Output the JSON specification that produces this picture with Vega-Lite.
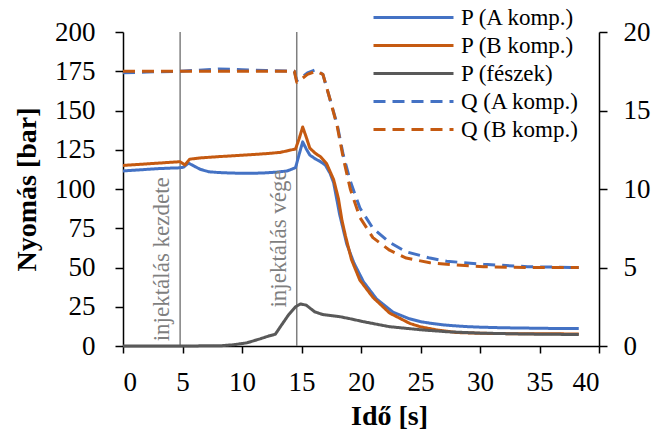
{
  "$schema": "https://vega.github.io/schema/vega-lite/v6.json",
  "width": 476,
  "height": 314,
  "autosize": {"type": "none"},
  "padding": {"left": 123, "top": 32, "right": 67, "bottom": 86},
  "background": "white",
  "config": {
    "view": {"stroke": null},
    "font": "Liberation Serif",
    "axis": {
      "grid": false,
      "labelOverlap": false,
      "domainColor": "#000000",
      "tickColor": "#000000",
      "domainWidth": 1.5,
      "tickWidth": 1.5,
      "labelFont": "Liberation Serif",
      "labelFontSize": 27,
      "labelColor": "#000000",
      "titleFont": "Liberation Serif",
      "titleFontSize": 28,
      "titleFontWeight": "bold",
      "titleColor": "#000000"
    },
    "legend": {
      "orient": "none",
      "legendX": 249,
      "legendY": -26,
      "padding": 0,
      "labelFont": "Liberation Serif",
      "labelFontSize": 23,
      "labelColor": "#000000",
      "symbolType": "M-1,0H7",
      "symbolSize": 400,
      "symbolStrokeWidth": 3,
      "labelOffset": 66,
      "rowPadding": 4
    }
  },
  "datasets": {
    "series": [
      {"t": 0, "v": 111.5, "s": "P (A komp.)"},
      {"t": 1, "v": 112, "s": "P (A komp.)"},
      {"t": 2, "v": 112.5, "s": "P (A komp.)"},
      {"t": 3, "v": 113, "s": "P (A komp.)"},
      {"t": 4, "v": 113.3, "s": "P (A komp.)"},
      {"t": 4.8, "v": 113.5, "s": "P (A komp.)"},
      {"t": 5.1, "v": 114, "s": "P (A komp.)"},
      {"t": 5.5, "v": 116.5, "s": "P (A komp.)"},
      {"t": 6, "v": 114.5, "s": "P (A komp.)"},
      {"t": 6.5, "v": 112.5, "s": "P (A komp.)"},
      {"t": 7.2, "v": 111, "s": "P (A komp.)"},
      {"t": 8, "v": 110.5, "s": "P (A komp.)"},
      {"t": 9, "v": 110.2, "s": "P (A komp.)"},
      {"t": 10, "v": 110, "s": "P (A komp.)"},
      {"t": 11, "v": 110, "s": "P (A komp.)"},
      {"t": 12, "v": 110.3, "s": "P (A komp.)"},
      {"t": 13, "v": 110.8, "s": "P (A komp.)"},
      {"t": 13.8, "v": 111.5, "s": "P (A komp.)"},
      {"t": 14.5, "v": 113.6, "s": "P (A komp.)"},
      {"t": 14.8, "v": 122, "s": "P (A komp.)"},
      {"t": 15.1, "v": 130, "s": "P (A komp.)"},
      {"t": 15.4, "v": 125.5, "s": "P (A komp.)"},
      {"t": 15.7, "v": 121.6, "s": "P (A komp.)"},
      {"t": 16.2, "v": 119, "s": "P (A komp.)"},
      {"t": 16.6, "v": 117.4, "s": "P (A komp.)"},
      {"t": 17, "v": 115.3, "s": "P (A komp.)"},
      {"t": 17.4, "v": 110, "s": "P (A komp.)"},
      {"t": 17.7, "v": 104, "s": "P (A komp.)"},
      {"t": 18.2, "v": 84, "s": "P (A komp.)"},
      {"t": 18.8, "v": 65, "s": "P (A komp.)"},
      {"t": 19.4, "v": 53, "s": "P (A komp.)"},
      {"t": 20.2, "v": 41, "s": "P (A komp.)"},
      {"t": 21.3, "v": 30, "s": "P (A komp.)"},
      {"t": 22.7, "v": 21.5, "s": "P (A komp.)"},
      {"t": 24, "v": 17.5, "s": "P (A komp.)"},
      {"t": 25, "v": 15.5, "s": "P (A komp.)"},
      {"t": 26, "v": 14.3, "s": "P (A komp.)"},
      {"t": 27, "v": 13.4, "s": "P (A komp.)"},
      {"t": 28, "v": 12.8, "s": "P (A komp.)"},
      {"t": 29, "v": 12.3, "s": "P (A komp.)"},
      {"t": 30, "v": 12, "s": "P (A komp.)"},
      {"t": 32, "v": 11.6, "s": "P (A komp.)"},
      {"t": 34, "v": 11.4, "s": "P (A komp.)"},
      {"t": 36, "v": 11.2, "s": "P (A komp.)"},
      {"t": 38.3, "v": 11.1, "s": "P (A komp.)"},

      {"t": 0, "v": 115, "s": "P (B komp.)"},
      {"t": 1, "v": 115.5, "s": "P (B komp.)"},
      {"t": 2, "v": 116, "s": "P (B komp.)"},
      {"t": 3, "v": 116.5, "s": "P (B komp.)"},
      {"t": 4, "v": 117, "s": "P (B komp.)"},
      {"t": 4.8, "v": 117.4, "s": "P (B komp.)"},
      {"t": 5.2, "v": 115.3, "s": "P (B komp.)"},
      {"t": 5.6, "v": 119, "s": "P (B komp.)"},
      {"t": 6.5, "v": 119.8, "s": "P (B komp.)"},
      {"t": 8, "v": 120.6, "s": "P (B komp.)"},
      {"t": 10, "v": 121.5, "s": "P (B komp.)"},
      {"t": 12, "v": 122.5, "s": "P (B komp.)"},
      {"t": 13.2, "v": 123.3, "s": "P (B komp.)"},
      {"t": 14.5, "v": 125.5, "s": "P (B komp.)"},
      {"t": 14.8, "v": 132, "s": "P (B komp.)"},
      {"t": 15.1, "v": 139.5, "s": "P (B komp.)"},
      {"t": 15.4, "v": 133, "s": "P (B komp.)"},
      {"t": 15.7, "v": 126, "s": "P (B komp.)"},
      {"t": 16.2, "v": 122.5, "s": "P (B komp.)"},
      {"t": 16.6, "v": 120.6, "s": "P (B komp.)"},
      {"t": 17.1, "v": 116.3, "s": "P (B komp.)"},
      {"t": 17.7, "v": 106, "s": "P (B komp.)"},
      {"t": 18.1, "v": 94, "s": "P (B komp.)"},
      {"t": 18.4, "v": 80, "s": "P (B komp.)"},
      {"t": 18.7, "v": 70, "s": "P (B komp.)"},
      {"t": 19.2, "v": 55, "s": "P (B komp.)"},
      {"t": 19.9, "v": 42, "s": "P (B komp.)"},
      {"t": 21, "v": 31, "s": "P (B komp.)"},
      {"t": 22.4, "v": 21, "s": "P (B komp.)"},
      {"t": 24.1, "v": 14.4, "s": "P (B komp.)"},
      {"t": 25, "v": 12.2, "s": "P (B komp.)"},
      {"t": 26.4, "v": 10.2, "s": "P (B komp.)"},
      {"t": 28, "v": 8.6, "s": "P (B komp.)"},
      {"t": 30, "v": 8.1, "s": "P (B komp.)"},
      {"t": 33, "v": 7.8, "s": "P (B komp.)"},
      {"t": 38.3, "v": 7.7, "s": "P (B komp.)"},

      {"t": 0, "v": 0, "s": "P (fészek)"},
      {"t": 5, "v": 0, "s": "P (fészek)"},
      {"t": 8.3, "v": 0.2, "s": "P (fészek)"},
      {"t": 9.3, "v": 0.8, "s": "P (fészek)"},
      {"t": 10.4, "v": 2, "s": "P (fészek)"},
      {"t": 11.5, "v": 4.5, "s": "P (fészek)"},
      {"t": 12.3, "v": 6.5, "s": "P (fészek)"},
      {"t": 12.8, "v": 7.5, "s": "P (fészek)"},
      {"t": 13.2, "v": 12, "s": "P (fészek)"},
      {"t": 13.9, "v": 19.7, "s": "P (fészek)"},
      {"t": 14.5, "v": 25, "s": "P (fészek)"},
      {"t": 14.9, "v": 26.8, "s": "P (fészek)"},
      {"t": 15.4, "v": 26, "s": "P (fészek)"},
      {"t": 16.1, "v": 21.8, "s": "P (fészek)"},
      {"t": 16.8, "v": 20, "s": "P (fészek)"},
      {"t": 18.2, "v": 18.7, "s": "P (fészek)"},
      {"t": 19, "v": 17.5, "s": "P (fészek)"},
      {"t": 20.2, "v": 15.5, "s": "P (fészek)"},
      {"t": 22.4, "v": 12.3, "s": "P (fészek)"},
      {"t": 25.2, "v": 10.2, "s": "P (fészek)"},
      {"t": 27.2, "v": 9.1, "s": "P (fészek)"},
      {"t": 30, "v": 8.2, "s": "P (fészek)"},
      {"t": 34, "v": 7.6, "s": "P (fészek)"},
      {"t": 38.3, "v": 7.3, "s": "P (fészek)"},

      {"t": 0, "v": 17.4, "s": "Q (A komp.)"},
      {"t": 2, "v": 17.45, "s": "Q (A komp.)"},
      {"t": 4.8, "v": 17.5, "s": "Q (A komp.)"},
      {"t": 6, "v": 17.55, "s": "Q (A komp.)"},
      {"t": 8, "v": 17.65, "s": "Q (A komp.)"},
      {"t": 10, "v": 17.6, "s": "Q (A komp.)"},
      {"t": 12, "v": 17.55, "s": "Q (A komp.)"},
      {"t": 14.4, "v": 17.5, "s": "Q (A komp.)"},
      {"t": 14.6, "v": 16.9, "s": "Q (A komp.)"},
      {"t": 15, "v": 17.1, "s": "Q (A komp.)"},
      {"t": 15.5, "v": 17.4, "s": "Q (A komp.)"},
      {"t": 16.2, "v": 17.6, "s": "Q (A komp.)"},
      {"t": 16.8, "v": 17.3, "s": "Q (A komp.)"},
      {"t": 17.4, "v": 15.7, "s": "Q (A komp.)"},
      {"t": 18, "v": 14.1, "s": "Q (A komp.)"},
      {"t": 18.5, "v": 12.2, "s": "Q (A komp.)"},
      {"t": 19.1, "v": 10.5, "s": "Q (A komp.)"},
      {"t": 19.9, "v": 8.8, "s": "Q (A komp.)"},
      {"t": 21, "v": 7.5, "s": "Q (A komp.)"},
      {"t": 22.4, "v": 6.6, "s": "Q (A komp.)"},
      {"t": 23.8, "v": 6, "s": "Q (A komp.)"},
      {"t": 25.8, "v": 5.6, "s": "Q (A komp.)"},
      {"t": 27.2, "v": 5.4, "s": "Q (A komp.)"},
      {"t": 30.3, "v": 5.2, "s": "Q (A komp.)"},
      {"t": 34, "v": 5.05, "s": "Q (A komp.)"},
      {"t": 38.3, "v": 5, "s": "Q (A komp.)"},

      {"t": 0, "v": 17.5, "s": "Q (B komp.)"},
      {"t": 4.8, "v": 17.5, "s": "Q (B komp.)"},
      {"t": 8, "v": 17.5, "s": "Q (B komp.)"},
      {"t": 10, "v": 17.5, "s": "Q (B komp.)"},
      {"t": 14.4, "v": 17.5, "s": "Q (B komp.)"},
      {"t": 14.6, "v": 16.8, "s": "Q (B komp.)"},
      {"t": 15, "v": 17, "s": "Q (B komp.)"},
      {"t": 15.5, "v": 17.3, "s": "Q (B komp.)"},
      {"t": 16.2, "v": 17.5, "s": "Q (B komp.)"},
      {"t": 16.8, "v": 17.3, "s": "Q (B komp.)"},
      {"t": 17.4, "v": 15.7, "s": "Q (B komp.)"},
      {"t": 18, "v": 14, "s": "Q (B komp.)"},
      {"t": 18.5, "v": 12, "s": "Q (B komp.)"},
      {"t": 19.1, "v": 10, "s": "Q (B komp.)"},
      {"t": 19.9, "v": 8.2, "s": "Q (B komp.)"},
      {"t": 21, "v": 6.9, "s": "Q (B komp.)"},
      {"t": 22.4, "v": 6.1, "s": "Q (B komp.)"},
      {"t": 23.8, "v": 5.6, "s": "Q (B komp.)"},
      {"t": 25.8, "v": 5.3, "s": "Q (B komp.)"},
      {"t": 27.2, "v": 5.2, "s": "Q (B komp.)"},
      {"t": 30.3, "v": 5.05, "s": "Q (B komp.)"},
      {"t": 34, "v": 5, "s": "Q (B komp.)"},
      {"t": 38.3, "v": 5, "s": "Q (B komp.)"}
    ],
    "events": [
      {"t": 4.8, "v": 3, "label": "injektálás kezdete"},
      {"t": 14.6, "v": 24.5, "label": "injektálás vége"}
    ]
  },
  "encoding": {
    "x": {
      "field": "t",
      "type": "quantitative",
      "scale": {"domain": [0, 40], "nice": false},
      "axis": {
        "values": [0, 5, 10, 15, 20, 25, 30, 35, 40],
        "tickSize": 7,
        "labelPadding": 16,
        "labelOverlap": false,
        "title": "Idő [s]",
        "titleX": 266,
        "titleY": 78,
        "titleAlign": "center",
        "titleBaseline": "alphabetic"
      }
    }
  },
  "layer": [
    {
      "layer": [
        {
          "data": {"name": "events"},
          "mark": {"type": "rule", "color": "#7f7f7f", "strokeWidth": 1.5},
          "encoding": {}
        },
        {
          "data": {"name": "series"},
          "transform": [{"filter": "indexof(datum.s, 'P') == 0"}],
          "mark": {"type": "line", "strokeWidth": 3, "strokeCap": "butt", "strokeJoin": "round"},
          "encoding": {
            "y": {
              "field": "v",
              "type": "quantitative",
              "scale": {"domain": [0, 200], "nice": false},
              "axis": {
                "values": [0, 25, 50, 75, 100, 125, 150, 175, 200],
                "labelOverlap": false,
                "tickSize": 8,
                "labelPadding": 20,
                "title": "Nyomás [bar]",
                "titleAngle": 270,
                "titleX": -88,
                "titleY": 157,
                "titleAlign": "center",
                "titleBaseline": "alphabetic"
              }
            },
            "color": {
              "field": "s",
              "type": "nominal",
              "scale": {
                "domain": ["P (A komp.)", "P (B komp.)", "P (fészek)", "Q (A komp.)", "Q (B komp.)"],
                "range": ["#4472C4", "#C55A11", "#595959", "#4472C4", "#C55A11"]
              },
              "legend": {"title": null}
            },
            "strokeDash": {
              "field": "s",
              "type": "nominal",
              "scale": {
                "domain": ["P (A komp.)", "P (B komp.)", "P (fészek)", "Q (A komp.)", "Q (B komp.)"],
                "range": [[1, 0], [1, 0], [1, 0], [12, 7], [12, 7]]
              },
              "legend": {"title": null}
            }
          }
        },
        {
          "data": {"name": "events"},
          "mark": {"type": "text", "angle": 270, "align": "left", "baseline": "bottom", "dy": -6, "font": "Liberation Serif", "fontSize": 23, "color": "#7f7f7f"},
          "encoding": {
            "y": {
              "field": "v",
              "type": "quantitative",
              "axis": {
                "values": [0, 25, 50, 75, 100, 125, 150, 175, 200],
                "labelOverlap": false,
                "tickSize": 8,
                "labelPadding": 20,
                "title": "Nyomás [bar]",
                "titleAngle": 270,
                "titleX": -88,
                "titleY": 157,
                "titleAlign": "center",
                "titleBaseline": "alphabetic"
              }
            },
            "text": {"field": "label"}
          }
        }
      ]
    },
    {
      "data": {"name": "series"},
      "transform": [{"filter": "indexof(datum.s, 'Q') == 0"}],
      "mark": {"type": "line", "strokeWidth": 3, "strokeCap": "butt", "strokeJoin": "round"},
      "encoding": {
        "y": {
          "field": "v",
          "type": "quantitative",
          "scale": {"domain": [0, 20], "nice": false},
          "axis": {
            "orient": "right",
            "values": [0, 5, 10, 15, 20],
            "tickSize": 8,
            "labelPadding": 16,
            "title": null
          }
        },
        "color": {"field": "s", "type": "nominal"},
        "strokeDash": {"field": "s", "type": "nominal"}
      }
    }
  ],
  "resolve": {"scale": {"y": "independent"}}
}
